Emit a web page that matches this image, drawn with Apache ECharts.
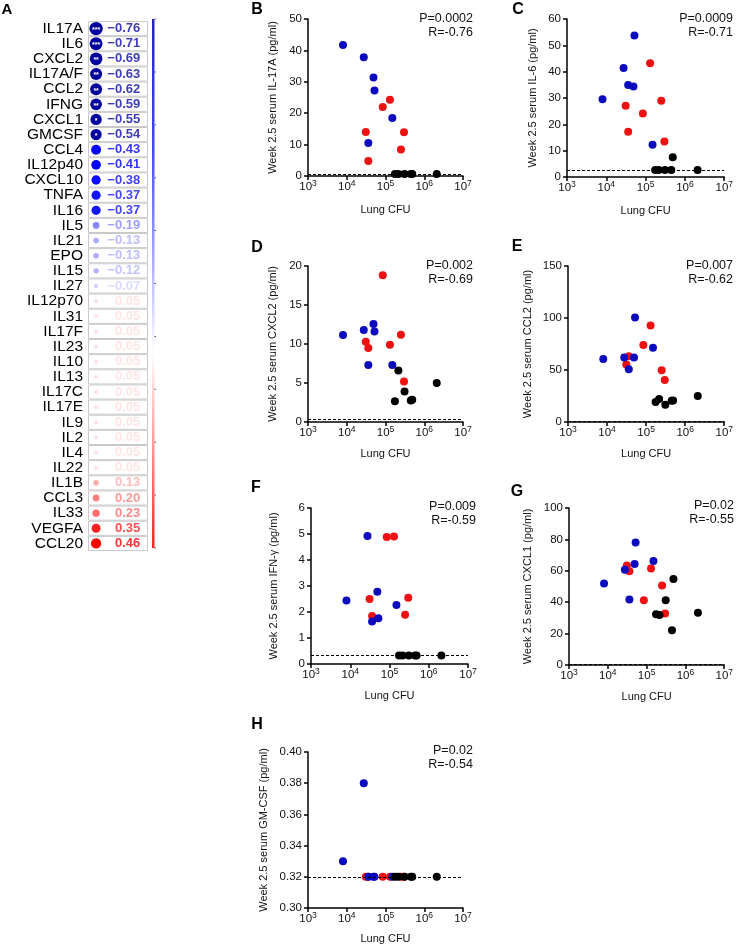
<!DOCTYPE html>
<html><head><meta charset="utf-8">
<script src="https://cdn.jsdelivr.net/npm/echarts@6/dist/echarts.min.js"></script>
<style>html,body{margin:0;padding:0;background:#fff}#c{width:736px;height:948px}</style>
</head><body><div id="c"></div>
<script>
// ---------- Panel A data ----------
const cytokines = ['IL17A','IL6','CXCL2','IL17A/F','CCL2','IFNG','CXCL1','GMCSF','CCL4','IL12p40','CXCL10','TNFA','IL16','IL5','IL21','EPO','IL15','IL27','IL12p70','IL31','IL17F','IL23','IL10','IL13','IL17C','IL17E','IL9','IL2','IL4','IL22','IL1B','CCL3','IL33','VEGFA','CCL20'];
const rValues = [-0.76,-0.71,-0.69,-0.63,-0.62,-0.59,-0.55,-0.54,-0.43,-0.41,-0.38,-0.37,-0.37,-0.19,-0.13,-0.13,-0.12,-0.07,0.05,0.05,0.05,0.05,0.05,0.05,0.05,0.05,0.05,0.05,0.05,0.05,0.13,0.20,0.23,0.35,0.46];
const stars = ['***','***','**','**','**','**','*','*'];

// ---------- Lung CFU per mouse (three groups) ----------
const cfuBlue  = [8.0e3, 2.75e4, 3.6e4, 4.9e4, 5.2e4, 1.5e5];
const cfuRed   = [3.1e4, 3.6e4, 8.5e4, 1.3e5, 2.5e5, 3.0e5];
const cfuBlack = [1.75e5, 2.15e5, 3.1e5, 4.5e5, 4.9e5, 2.1e6];

// ---------- serum values ----------
const il17aBlue  = [41.7, 37.8, 10.5, 31.4, 27.2, 18.5];
const il17aRed   = [14.0, 4.8, 22.0, 24.3, 8.4, 13.9];
const il17aBlack = [0.6, 0.6, 0.6, 0.6, 0.6, 0.6];

const il6Blue  = [29.5, 41.4, 34.9, 34.4, 53.7, 12.2];
const il6Red   = [27.1, 17.2, 24.1, 43.2, 29.0, 13.5];
const il6Black = [2.7, 2.7, 2.7, 2.7, 7.5, 2.7];

const cxcl2Blue  = [11.15, 11.8, 7.3, 12.55, 11.6, 7.3];
const cxcl2Red   = [10.3, 9.5, 18.8, 9.9, 11.2, 5.2];
const cxcl2Black = [2.65, 6.6, 3.9, 2.75, 2.85, 5.0];

const ccl2Blue  = [60.6, 61.9, 50.7, 61.9, 100.5, 71.5];
const ccl2Red   = [55.2, 63.2, 74.0, 92.9, 49.8, 40.5];
const ccl2Black = [19.2, 22.0, 16.6, 20.4, 20.7, 24.9];

const ifngBlue  = [2.44, 4.92, 1.63, 2.78, 1.76, 2.27];
const ifngRed   = [2.50, 1.85, 4.88, 4.90, 1.89, 2.55];
const ifngBlack = [0.33, 0.33, 0.33, 0.33, 0.33, 0.33];

const cxcl1Blue  = [51.9, 60.6, 41.7, 64.4, 78.0, 66.3];
const cxcl1Red   = [63.3, 59.7, 41.3, 61.4, 50.6, 32.8];
const cxcl1Black = [32.4, 31.8, 41.3, 22.2, 54.7, 33.3];

const gmcsfBlue  = [0.33, 0.38, 0.32, 0.32, 0.32, 0.32];
const gmcsfRed   = [0.32, 0.32, 0.32, 0.32, 0.32, 0.32];
const gmcsfBlack = [0.32, 0.32, 0.32, 0.32, 0.32, 0.32];

// detection limits (dashed lines)
const lodValues = [0.6, 2.7, 0.3, 1.0, 0.33, 0.5, 0.32];
const pTexts = ['P=0.0002','P=0.0009','P=0.002','P=0.007','P=0.009','P=0.02','P=0.02'];
const rTexts = ['R=-0.76','R=-0.71','R=-0.69','R=-0.62','R=-0.59','R=-0.55','R=-0.54'];
const yTitles = ['Week 2.5 serum IL-17A (pg/ml)','Week 2.5 serum IL-6 (pg/ml)','Week 2.5 serum CXCL2 (pg/ml)','Week 2.5 serum CCL2 (pg/ml)','Week 2.5 serum IFN-γ (pg/ml)','Week 2.5 serum CXCL1 (pg/ml)','Week 2.5 serum GM-CSF (pg/ml)'];
const panelLetters = ['B','C','D','E','F','G','H'];

// ---------- layout / style ----------
const FF = '"Liberation Sans", Arial, sans-serif';
const BLUE = '#0b0bbd', RED = '#ee1111', BLACK = '#000000';

const panels = [
  {grid:{left:308,top:19,width:155,height:157}, min:0,max:50,interval:10, blue:il17aBlue, red:il17aRed, black:il17aBlack, nameGap:30, xGap:28, letter:[257,10], pr:[473,19]},
  {grid:{left:567,top:19,width:158,height:158}, min:0,max:60,interval:10, blue:il6Blue, red:il6Red, black:il6Black, nameGap:29, xGap:28, letter:[518,10], pr:[733,19]},
  {grid:{left:308,top:266,width:155,height:156}, min:0,max:20,interval:5, blue:cxcl2Blue, red:cxcl2Red, black:cxcl2Black, nameGap:30, xGap:26, letter:[257,248], pr:[473,266]},
  {grid:{left:568,top:266,width:157,height:156}, min:0,max:150,interval:50, blue:ccl2Blue, red:ccl2Red, black:ccl2Black, nameGap:35, xGap:26, letter:[517,247], pr:[733,266]},
  {grid:{left:311,top:508,width:157,height:156}, min:0,max:6,interval:1, blue:ifngBlue, red:ifngRed, black:ifngBlack, nameGap:32, xGap:26, letter:[256,488], pr:[476,507]},
  {grid:{left:569,top:508,width:157,height:157}, min:0,max:100,interval:20, blue:cxcl1Blue, red:cxcl1Red, black:cxcl1Black, nameGap:36, xGap:26, letter:[517,492], pr:[734,506]},
  {grid:{left:308,top:752,width:155,height:156}, min:0.30,max:0.40,interval:0.02, blue:gmcsfBlue, red:gmcsfRed, black:gmcsfBlack, nameGap:39, xGap:25, letter:[257,725], pr:[473,751], dec:2}
];

function mix(rgb, t){
  const c = rgb.map(v => Math.round(255 + (v - 255) * t));
  return 'rgb(' + c.join(',') + ')';
}
function rColor(r, i){
  if (stars[i]) return '#00009c';
  const t = Math.min(1, Math.abs(r) / 0.4);
  return mix(r < 0 ? [0,0,255] : [255,0,0], t);
}
function rText(r){ return (r < 0 ? '\u2212' : '') + Math.abs(r).toFixed(2); }
function rSize(r){ return 1.5 + 14 * Math.pow(Math.abs(r), 0.6); }

const grids = [], xAxes = [], yAxes = [], series = [], graphics = [];

// ---------- Panel A ----------
grids.push({left:88, top:21, width:60, height:530});
xAxes.push({gridIndex:0, type:'value', min:0, max:1, show:false});
yAxes.push({gridIndex:0, type:'category', data:cytokines, inverse:true,
  axisLine:{show:false}, axisTick:{show:false}, splitLine:{show:false},
  axisLabel:{interval:0, fontSize:15.5, color:'#000', margin:5, fontFamily:FF}});
series.push({type:'bar', xAxisIndex:0, yAxisIndex:0, silent:true,
  data: cytokines.map(() => 1), barCategoryGap:'0%',
  itemStyle:{color:'#ffffff', borderColor:'#c9c9c9', borderWidth:1}});
series.push({type:'scatter', xAxisIndex:0, yAxisIndex:0, silent:true,
  data: rValues.map((r, i) => ({
    value:[0.135, cytokines[i]], symbolSize:rSize(r),
    itemStyle:{color:rColor(r, i), opacity:1},
    label:{show:!!stars[i], formatter:stars[i] || '', position:'inside', color:'#fff', fontSize:7, fontWeight:'bold', offset:[0,1.5]}
  }))});
series.push({type:'scatter', xAxisIndex:0, yAxisIndex:0, silent:true, symbolSize:0,
  data: rValues.map((r, i) => ({
    value:[0.87, cytokines[i]],
    label:{show:true, position:'left', distance:0, formatter:rText(r), color: stars[i] ? '#0a0aa8' : rColor(r, i),
      fontSize:13, fontWeight:'bold', fontFamily:FF}
  }))});

graphics.push({type:'text', x:7, y:10, style:{text:'A', fontSize:15, fontWeight:'bold', fontFamily:FF, fill:'#000', align:'center', verticalAlign:'middle'}});
graphics.push({type:'rect', shape:{x:152, y:19, width:2.5, height:529},
  style:{fill:new echarts.graphic.LinearGradient(0,0,0,1,[
    {offset:0, color:'#2424bb'},{offset:0.25, color:'#4646ff'},{offset:0.63, color:'#ffffff'},{offset:1, color:'#ff2222'}])}});
for (let k = 0; k <= 10; k++) {
  graphics.push({type:'rect', shape:{x:154.5, y:19 + 52.9 * k - 0.5, width:1.5, height:1}, style:{fill:'#555'}});
}

// ---------- Panels B-H ----------
panels.forEach((p, idx) => {
  const g = idx + 1;
  grids.push(p.grid);
  xAxes.push({gridIndex:g, type:'log', logBase:10, min:1e3, max:1e7, splitNumber:4,
    name:'Lung CFU', nameLocation:'middle', nameGap:p.xGap,
    nameTextStyle:{fontSize:11, color:'#111', fontFamily:FF},
    axisLine:{show:true, lineStyle:{color:'#000', width:1.5}},
    axisTick:{show:true, length:4, lineStyle:{color:'#000', width:1.5}},
    minorTick:{show:false}, splitLine:{show:false},
    axisLabel:{margin:3, color:'#111', fontFamily:FF,
      formatter: v => '{b|10}{s|' + Math.round(Math.log10(v)) + '}',
      rich:{b:{fontSize:11.5, lineHeight:14, verticalAlign:'bottom', fontFamily:FF, color:'#111'},
            s:{fontSize:8.5, lineHeight:11, verticalAlign:'top', fontFamily:FF, color:'#111'}}}});
  yAxes.push({gridIndex:g, type:'value', min:p.min, max:p.max, interval:p.interval,
    name:yTitles[idx], nameLocation:'middle', nameGap:p.nameGap,
    nameTextStyle:{fontSize:11, color:'#111', fontFamily:FF},
    axisLine:{show:true, lineStyle:{color:'#000', width:1.5}},
    axisTick:{show:true, length:4, lineStyle:{color:'#000', width:1.5}},
    splitLine:{show:false},
    axisLabel:{margin:6, fontSize:11.5, color:'#111', fontFamily:FF,
      formatter: v => p.dec ? v.toFixed(p.dec) : String(v)}});
  const mk = (xs, ys) => xs.map((x, i) => [x, ys[i]]);
  series.push({type:'scatter', xAxisIndex:g, yAxisIndex:g, symbolSize:8, silent:true,
    itemStyle:{color:RED, opacity:1}, data:mk(cfuRed, p.red)});
  series.push({type:'scatter', xAxisIndex:g, yAxisIndex:g, symbolSize:8, silent:true,
    itemStyle:{color:BLUE, opacity:1}, data:mk(cfuBlue, p.blue)});
  series.push({type:'scatter', xAxisIndex:g, yAxisIndex:g, symbolSize:8, silent:true,
    itemStyle:{color:BLACK, opacity:1}, data:mk(cfuBlack, p.black), z:3,
    markLine:{silent:true, symbol:'none', label:{show:false}, animation:false,
      lineStyle:{color:'#000', width:1, type:[3,2]}, data:[{yAxis:lodValues[idx]}]}});
  graphics.push({type:'text', x:p.letter[0], y:p.letter[1], style:{text:panelLetters[idx], fontSize:16, fontWeight:'bold', fontFamily:FF, fill:'#000', align:'center', verticalAlign:'middle'}});
  graphics.push({type:'text', x:p.pr[0], y:p.pr[1], style:{text:pTexts[idx], fontSize:12.5, fontFamily:FF, fill:'#111', align:'right', verticalAlign:'middle'}});
  graphics.push({type:'text', x:p.pr[0], y:p.pr[1] + 14, style:{text:rTexts[idx], fontSize:12.5, fontFamily:FF, fill:'#111', align:'right', verticalAlign:'middle'}});
});

const chart = echarts.init(document.getElementById('c'), null, {renderer:'canvas'});
chart.setOption({
  animation:false,
  backgroundColor:'#ffffff',
  textStyle:{fontFamily:FF},
  grid:grids, xAxis:xAxes, yAxis:yAxes, series:series, graphic:graphics
});
</script>
</body></html>
